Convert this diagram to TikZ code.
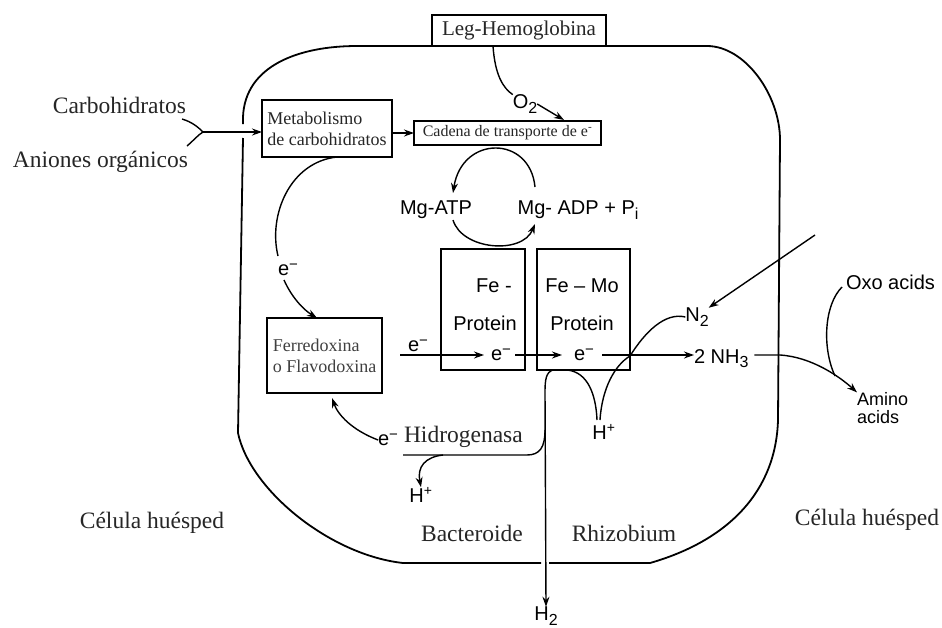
\documentclass[tikz,border=0pt]{standalone}
\usepackage{fontspec}
\setmainfont{Liberation Serif}
\newfontfamily\handfont{Liberation Sans}
\usetikzlibrary{arrows.meta,calc}
% hand-lettered style subscript: nearly full size, just lowered
\newcommand\lowsub[1]{\raisebox{-0.45ex}{\fontsize{16}{16}\selectfont #1}}
\newcommand\elec{e\raisebox{0.55ex}{\fontsize{15}{15}\selectfont −}}

\begin{document}
\begin{tikzpicture}[x=1pt,y=-1pt,
  every node/.style={inner sep=0pt, outer sep=0pt},
  serifbig/.style={font=\fontsize{23.5}{27}\selectfont, text=black!85},
  boxed/.style={draw, line width=1.5pt, align=left, text=black!85},
  hand/.style={font=\handfont\fontsize{20}{22}\selectfont},
  arr/.style={line width=1.4pt, -{Stealth[length=10pt,width=7pt]}},
  plain/.style={line width=1.4pt},
  membrane/.style={line width=1.8pt}]

\fill[white] (0,0) rectangle (942,627);
\useasboundingbox (0,0) rectangle (942,627);

% bacteroid membrane
\draw[membrane] (243,138) -- (238,433) .. controls (250,490) and (330,555) .. (403,563) -- (541,563);
\draw[membrane] (549,563) -- (650,563) .. controls (730,540) and (776,490) .. (778,420)
  -- (780,140) .. controls (780,95) and (745,46) .. (707,46) -- (357,46)
  .. controls (300,46) and (245,65) .. (243,117) -- (243,124);

% boxes
\node[boxed, fill=white, minimum width=174pt, minimum height=31pt, font=\fontsize{21}{24}\selectfont] (leg) at (519,30.5) {Leg-Hemoglobina};
\node[boxed, minimum width=130pt, minimum height=57pt, font=\fontsize{18}{21}\selectfont] (meta) at (327,128.5) {Metabolismo\\de carbohidratos};
\node[boxed, minimum width=187pt, minimum height=24pt, font=\fontsize{16}{18}\selectfont] (cad) at (507.5,133) {Cadena de transporte de e\textsuperscript{-}};
\node[boxed, minimum width=115pt, minimum height=75pt, font=\fontsize{18}{21}\selectfont, text=black!75] (ferr) at (324.5,355.5) {Ferredoxina\\o Flavodoxina};
\node[draw, line width=1.5pt, minimum width=84pt, minimum height=121pt] (fe) at (483,309.5) {};
\node[draw, line width=1.5pt, minimum width=93pt, minimum height=121pt] (femo) at (583.5,309.5) {};

% protein labels
\node[hand] (fe1) at (494,286) {Fe -};
\node[hand] (fe2) at (485,323) {Protein};
\node[hand] (femo1) at (582,286) {Fe – Mo};
\node[hand] (femo2) at (582,323) {Protein};

% handwritten species
\node[hand] (o2) at (525,104) {O\lowsub{2}};
\node[hand] (atp) at (436,210) {Mg-ATP};
\node[hand] (adp) at (578,210) {Mg- ADP + P\lowsub{i}};
\node[hand] (em) at (288,270) {\elec};
\node[hand] (e1) at (418,346) {\elec};
\node[hand] (e2) at (501,355) {\elec};
\node[hand] (e3) at (584,355) {\elec};
\node[hand] (eh) at (388,440) {\elec};
\node[hand] (hl) at (421,495) {H\textsuperscript{+}};
\node[hand] (hr) at (604,432) {H\textsuperscript{+}};
\node[hand] (h2) at (546,616) {H\lowsub{2}};
\node[hand] (n2) at (697,317) {N\lowsub{2}};
\node[hand, anchor=base west] (nh3) at (694,363) {2 NH\lowsub{3}};
\node[hand, anchor=west] (oxo) at (846,282) {Oxo acids};
\node[hand, align=left, anchor=west, font=\handfont\fontsize{18}{18}\selectfont] (amino) at (857,408) {Amino\\acids};

% serif labels
\node[serifbig, anchor=east] (carb) at (186,105) {Carbohidratos};
\node[serifbig, anchor=east] (anion) at (188,162) {Aniones orgánicos};
\node[serifbig, anchor=west] (hid) at (404,437) {Hidrogenasa};
\node[serifbig] (hostl) at (152,523) {Célula huésped};
\node[serifbig] (hostr) at (867,520) {Célula huésped};
\node[serifbig] (bact) at (472,533) {Bacteroide};
\node[serifbig] (rhiz) at (624,533) {Rhizobium};

% named points for free ends
\coordinate (fork) at (203,132);
\coordinate (carbend) at (182,119);
\coordinate (anionend) at (187,146);
\coordinate (legout) at (493,46);
\coordinate (n2in) at (815,235);
\coordinate (oxoin) at (842,287);

% substrates entering
\draw[plain] (carbend) .. controls (192,122) and (198,127) .. (fork);
\draw[plain] (anionend) .. controls (194,140) and (198,135) .. (fork);
\draw[arr] (fork) -- (fork -| meta.west);
\draw[arr] (meta.east |- cad.west) -- (cad.west);

% oxygen supply
\draw[plain] (legout) .. controls (495,75) and (503,88) .. (o2.north west);
\draw[arr] (o2.east) -- (564,120);

% ATP cycle
\draw[arr] (535,187) .. controls (530,135) and (462,135) .. (453,193);
\draw[arr] (453,220) .. controls (462,250) and (522,255) .. (535,224);

% electrons to ferredoxin
\draw[plain] (337,157) .. controls (290,162) and (268,215) .. (278,256);
\draw[arr] (284,280) .. controls (292,298) and (304,310) .. (317,318);

% electron flow through the nitrogenase
\draw[arr] (400,355) -- (484,355);
\draw[arr] (515,355) -- (562,355);
\draw[arr] (602,355) -- (nh3.west |- 0,355);

% hydrogenase recycling
\draw[arr] (eh.west) .. controls (352,430) and (338,415) .. (332,398);
\draw[plain] (403,455) -- (527,455) .. controls (540,455) and (545,447) .. (545,430);
\draw[arr] (553,370) .. controls (546,372) and (545,380) .. (545,392) -- (h2.north);
\draw[arr] (443,455) .. controls (425,457) and (417,467) .. (hl.north);

% protons and dinitrogen
\draw[plain] (567,370) .. controls (588,372) and (596,395) .. (597,420);
\draw[plain] (600,420) .. controls (602,388) and (615,365) .. (630,356)
  .. controls (645,332) and (665,312) .. (n2.west);
\draw[arr] (n2in) -- (n2.north east);

% ammonia export
\draw[arr] ($(nh3.east |- 0,355)+(6,0)$) -- (780,355) .. controls (812,357) and (840,377) .. (amino.north west);
\draw[plain] (oxoin) .. controls (824,305) and (822,348) .. (835,376);

\end{tikzpicture}
\end{document}
